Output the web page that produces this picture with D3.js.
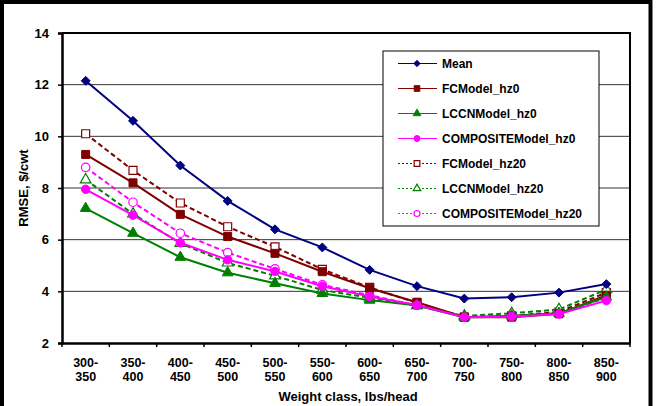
<!DOCTYPE html>
<html>
<head>
<meta charset="utf-8">
<script src="https://cdn.jsdelivr.net/npm/d3@7"></script>
<style>
  body { margin: 0; background: #fff; }
  svg text { font-family: "Liberation Sans", Arial, sans-serif; font-weight: bold; }
</style>
</head>
<body>
<div class="chart"></div>
<script>
const categories = ['300-350', '350-400', '400-450', '450-500', '500-550', '550-600',
  '600-650', '650-700', '700-750', '750-800', '800-850', '850-900'];
const yTicks = [2, 4, 6, 8, 10, 12, 14];

const mean = [12.15, 10.6, 8.87, 7.5, 6.4, 5.7, 4.83, 4.2, 3.72, 3.77, 3.95, 4.28];
const fcHz0 = [9.3, 8.2, 6.98, 6.12, 5.47, 4.76, 4.12, 3.58, 3.0, 3.0, 3.13, 3.85];
const lccnHz0 = [7.21, 6.25, 5.32, 4.72, 4.31, 3.92, 3.66, 3.45, 3.0, 3.05, 3.15, 3.78];
const compHz0 = [7.95, 6.95, 5.88, 5.22, 4.77, 4.2, 3.8, 3.47, 3.0, 3.02, 3.12, 3.64];
const fcHz20 = [10.1, 8.68, 7.42, 6.5, 5.72, 4.85, 4.15, 3.55, 3.0, 3.05, 3.2, 3.95];
const lccnHz20 = [8.32, 7.0, 5.86, 5.1, 4.6, 4.05, 3.75, 3.45, 3.05, 3.15, 3.3, 4.07];
const compHz20 = [8.8, 7.45, 6.25, 5.5, 4.87, 4.25, 3.85, 3.45, 3.0, 3.05, 3.15, 3.75];

const series = [
  { name: 'Mean', values: mean, color: '#000080', marker: 'diamond', fill: true, dash: null },
  { name: 'FCModel_hz0', values: fcHz0, color: '#800000', marker: 'square', fill: true, dash: null },
  { name: 'LCCNModel_hz0', values: lccnHz0, color: '#008000', marker: 'triangle', fill: true, dash: null },
  { name: 'COMPOSITEModel_hz0', values: compHz0, color: '#ff00ff', marker: 'circle', fill: true, dash: null },
  { name: 'FCModel_hz20', values: fcHz20, color: '#800000', marker: 'square', fill: false, dash: '5,3' },
  { name: 'LCCNModel_hz20', values: lccnHz20, color: '#008000', marker: 'triangle', fill: false, dash: '5,3' },
  { name: 'COMPOSITEModel_hz20', values: compHz20, color: '#ff00ff', marker: 'circle', fill: false, dash: '5,3' }
];

const W = 658;
const H = 406;
const plot = { left: 62, top: 33, right: 630, bottom: 343 };

const svg = d3.select('.chart').append('svg')
  .attr('width', W)
  .attr('height', H);

svg.append('rect')
  .attr('x', 2).attr('y', 2)
  .attr('width', 648.5).attr('height', 412)
  .attr('fill', '#fff')
  .attr('stroke', '#000')
  .attr('stroke-width', 4);

const x = d3.scaleBand().domain(categories).range([plot.left, plot.right]);
const y = d3.scaleLinear().domain([2, 14]).range([plot.bottom, plot.top]);

// gridlines
svg.append('g')
  .selectAll('line')
  .data(yTicks.slice(1, -1))
  .join('line')
  .attr('x1', plot.left).attr('x2', plot.right)
  .attr('y1', d => y(d)).attr('y2', d => y(d))
  .attr('stroke', '#333')
  .attr('stroke-width', 1);

// plot frame top/right
svg.append('path')
  .attr('d', `M${plot.left},${plot.top}H${plot.right}V${plot.bottom}`)
  .attr('fill', 'none')
  .attr('stroke', '#000')
  .attr('stroke-width', 2);

// y axis
const yAxis = svg.append('g')
  .attr('transform', `translate(${plot.left},0)`)
  .call(d3.axisLeft(y).tickValues(yTicks).tickSize(4).tickPadding(9));
yAxis.select('.domain').attr('stroke-width', 2.5);
yAxis.selectAll('.tick line').attr('stroke-width', 1.5);
yAxis.selectAll('text').attr('font-size', 13).attr('fill', '#000');

// x axis
const xAxis = svg.append('g')
  .attr('transform', `translate(0,${plot.bottom})`)
  .call(d3.axisBottom(x).tickSize(0).tickFormat(''));
xAxis.select('.domain').attr('stroke-width', 2.5);
xAxis.selectAll('.tick').remove();

svg.append('g')
  .selectAll('line')
  .data(categories.concat(['end']))
  .join('line')
  .attr('x1', (d, i) => plot.left + i * x.bandwidth())
  .attr('x2', (d, i) => plot.left + i * x.bandwidth())
  .attr('y1', plot.bottom)
  .attr('y2', plot.bottom + 4)
  .attr('stroke', '#000')
  .attr('stroke-width', 1.5);

const xLabels = svg.append('g')
  .selectAll('text')
  .data(categories)
  .join('text')
  .attr('x', d => x(d) + x.bandwidth() / 2)
  .attr('text-anchor', 'middle')
  .attr('font-size', 12.5);
xLabels.append('tspan')
  .attr('x', d => x(d) + x.bandwidth() / 2)
  .attr('y', 367)
  .text(d => d.split('-')[0] + '-');
xLabels.append('tspan')
  .attr('x', d => x(d) + x.bandwidth() / 2)
  .attr('y', 381)
  .text(d => d.split('-')[1]);

// axis titles
svg.append('text')
  .attr('x', 348).attr('y', 401)
  .attr('text-anchor', 'middle')
  .attr('font-size', 13)
  .text('Weight class, lbs/head');

svg.append('text')
  .attr('transform', `translate(28,${(plot.top + plot.bottom) / 2}) rotate(-90)`)
  .attr('text-anchor', 'middle')
  .attr('font-size', 13)
  .text('RMSE, $/cwt');

// square diamond like the spreadsheet marker
const diamond = {
  draw(ctx, size) {
    const r = Math.sqrt(size / 2);
    ctx.moveTo(0, -r);
    ctx.lineTo(r, 0);
    ctx.lineTo(0, r);
    ctx.lineTo(-r, 0);
    ctx.closePath();
  }
};

const symbolType = {
  diamond,
  square: d3.symbolSquare,
  triangle: d3.symbolTriangle,
  circle: d3.symbolCircle
};
const symbolSize = { diamond: 40, square: 64, triangle: 50, circle: 56 };

const line = d3.line()
  .x((d, i) => x(categories[i]) + x.bandwidth() / 2)
  .y(d => y(d));

const drawMarker = (g, s, size, px, py) => {
  g.append('path')
    .attr('d', d3.symbol().type(symbolType[s.marker]).size(size)())
    .attr('transform', `translate(${px},${py})`)
    .attr('fill', s.fill ? s.color : '#fff')
    .attr('stroke', s.color)
    .attr('stroke-width', s.fill ? 1 : 1.2);
};

// draw hz20 first then hz0 then mean on top
const order = [4, 5, 6, 1, 2, 3, 0];
order.forEach((k) => {
  const s = series[k];
  const g = svg.append('g');
  g.append('path')
    .datum(s.values)
    .attr('d', line)
    .attr('fill', 'none')
    .attr('stroke', s.color)
    .attr('stroke-width', 2)
    .attr('stroke-dasharray', s.dash);
  s.values.forEach((v, i) => {
    drawMarker(g, s, symbolSize[s.marker], x(categories[i]) + x.bandwidth() / 2, y(v));
  });
});

// legend
const legend = svg.append('g');
legend.append('rect')
  .attr('x', 383).attr('y', 51)
  .attr('width', 216).attr('height', 175)
  .attr('fill', '#fff')
  .attr('stroke', '#000')
  .attr('stroke-width', 1);

series.forEach((s, i) => {
  const ly = 63.5 + i * 25;
  legend.append('line')
    .attr('x1', 398).attr('x2', 437)
    .attr('y1', ly).attr('y2', ly)
    .attr('stroke', s.color)
    .attr('stroke-width', 1.2)
    .attr('stroke-dasharray', s.dash ? '2,2' : null);
  drawMarker(legend, s, symbolSize[s.marker] * 0.5, 417, ly);
  legend.append('text')
    .attr('x', 442).attr('y', ly + 4)
    .attr('font-size', 12)
    .text(s.name);
});
</script>
</body>
</html>
